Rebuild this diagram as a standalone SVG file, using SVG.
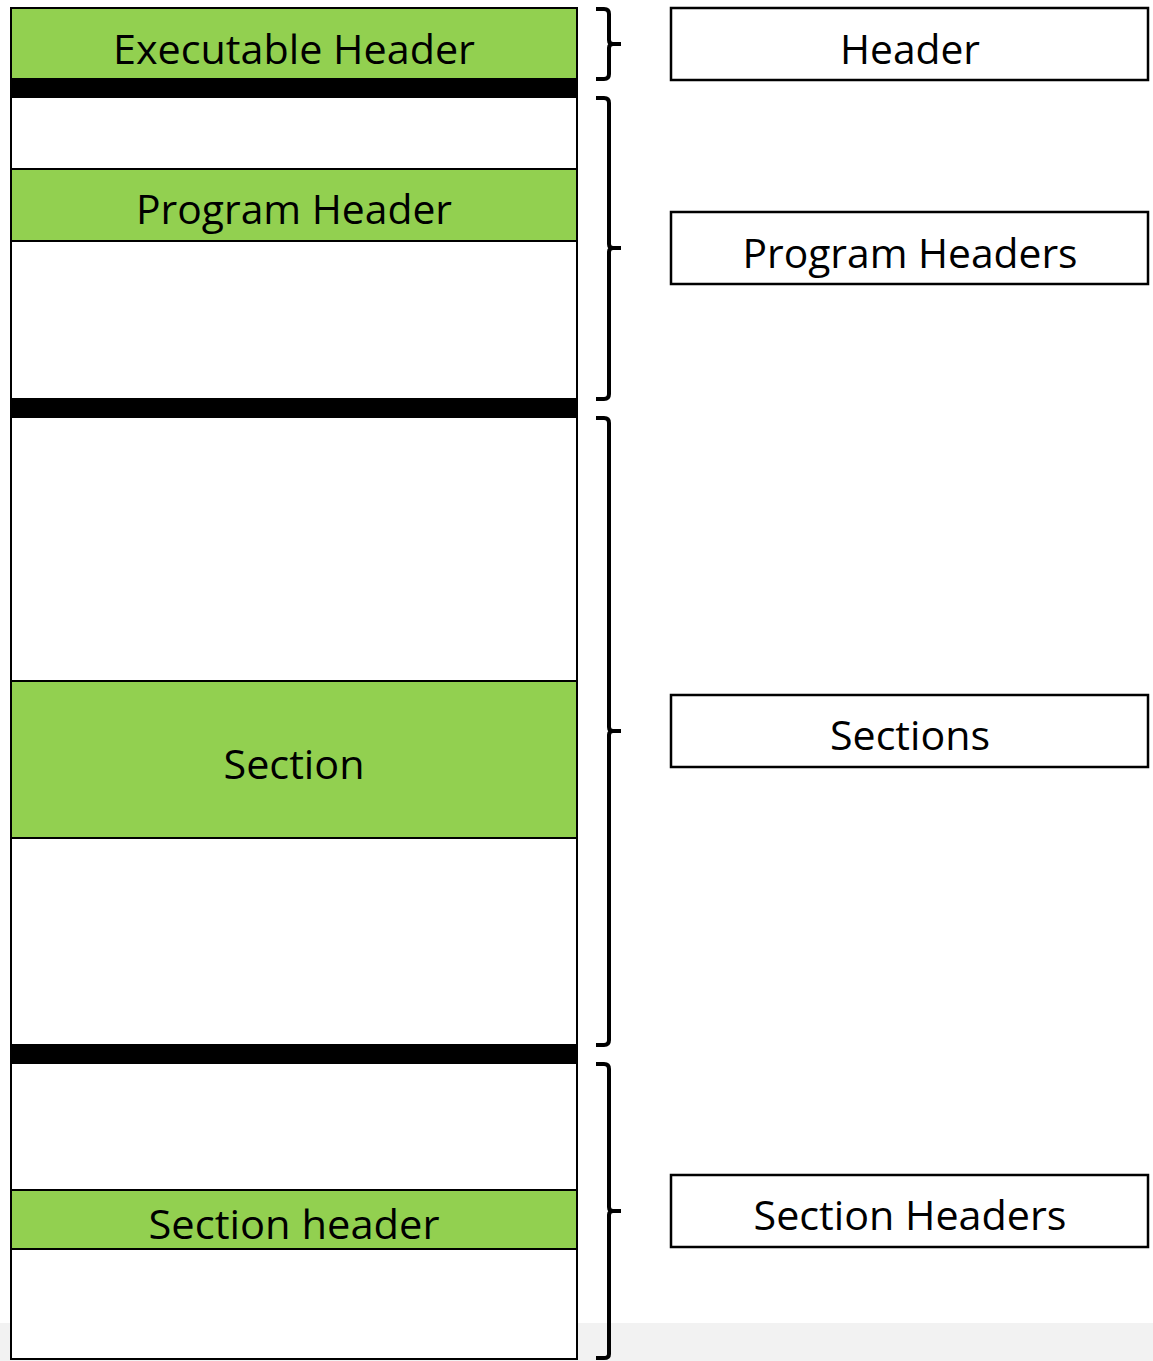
<svg xmlns="http://www.w3.org/2000/svg" width="1153" height="1361" viewBox="0 0 1153 1361">
  <style>
    .green { fill: #92D050; stroke: #000; stroke-width: 2; }
    .blank { fill: #FFFFFF; stroke: #000; stroke-width: 2; }
    .bar { fill: #000; }
    .label { fill: #FFFFFF; stroke: #000; stroke-width: 2.5; }
    .brace { fill: none; stroke: #000; stroke-width: 4; stroke-linejoin: round; }
    text { font-family: "Open Sans", "Noto Sans", sans-serif; font-size: 40px; fill: #000; text-anchor: middle; }
  </style>

  <!-- page background with light grey footer strip -->
  <rect x="0" y="0" width="1153" height="1361" fill="#FFFFFF"/>
  <rect x="0" y="1323" width="1153" height="38" fill="#F2F2F2"/>

  <!-- file layout column -->
  <g id="exec-header">
    <rect class="green" x="11" y="8" width="566" height="71"/>
    <text x="294" y="64" textLength="362" lengthAdjust="spacingAndGlyphs">Executable Header</text>
  </g>
  <rect class="bar" x="10" y="79" width="568" height="18"/>

  <g id="program-header-area">
    <rect class="blank" x="11" y="97" width="566" height="72"/>
    <g id="program-header">
      <rect class="green" x="11" y="169" width="566" height="72"/>
      <text x="294" y="224" textLength="316" lengthAdjust="spacingAndGlyphs">Program Header</text>
    </g>
    <rect class="blank" x="11" y="241" width="566" height="158"/>
  </g>
  <rect class="bar" x="10" y="399" width="568" height="18"/>

  <g id="section-area">
    <rect class="blank" x="11" y="417" width="566" height="264"/>
    <g id="section">
      <rect class="green" x="11" y="681" width="566" height="157"/>
      <text x="294" y="779" textLength="141" lengthAdjust="spacingAndGlyphs">Section</text>
    </g>
    <rect class="blank" x="11" y="838" width="566" height="207"/>
  </g>
  <rect class="bar" x="10" y="1045" width="568" height="18"/>

  <g id="section-header-area">
    <rect class="blank" x="11" y="1063" width="566" height="127"/>
    <g id="section-header">
      <rect class="green" x="11" y="1190" width="566" height="59"/>
      <text x="294" y="1239" textLength="291" lengthAdjust="spacingAndGlyphs">Section header</text>
    </g>
    <rect class="blank" x="11" y="1249" width="566" height="110"/>
  </g>

  <!-- braces grouping the column regions -->
  <g id="connectors">
    <path class="brace" d="M596,9 H604 Q609,9 609,14 V40 Q609,44 613,44 H621 M613,44 Q609,44 609,48 V74 Q609,79 604,79 H596"/>
    <path class="brace" d="M596,98 H604 Q609,98 609,103 V244 Q609,248 613,248 H621 M613,248 Q609,248 609,252 V394 Q609,399 604,399 H596"/>
    <path class="brace" d="M596,418 H604 Q609,418 609,423 V727 Q609,731 613,731 H621 M613,731 Q609,731 609,735 V1040 Q609,1045 604,1045 H596"/>
    <path class="brace" d="M596,1064 H604 Q609,1064 609,1069 V1207 Q609,1211 613,1211 H621 M613,1211 Q609,1211 609,1215 V1354 Q609,1358 604,1358 H596"/>
  </g>

  <!-- region labels -->
  <g id="label-header">
    <rect class="label" x="671" y="8" width="477" height="72"/>
    <text x="910" y="64" textLength="140" lengthAdjust="spacingAndGlyphs">Header</text>
  </g>
  <g id="label-program-headers">
    <rect class="label" x="671" y="212" width="477" height="72"/>
    <text x="910" y="268" textLength="335" lengthAdjust="spacingAndGlyphs">Program Headers</text>
  </g>
  <g id="label-sections">
    <rect class="label" x="671" y="695" width="477" height="72"/>
    <text x="910" y="750" textLength="160" lengthAdjust="spacingAndGlyphs">Sections</text>
  </g>
  <g id="label-section-headers">
    <rect class="label" x="671" y="1175" width="477" height="72"/>
    <text x="910" y="1230" textLength="313" lengthAdjust="spacingAndGlyphs">Section Headers</text>
  </g>
</svg>
